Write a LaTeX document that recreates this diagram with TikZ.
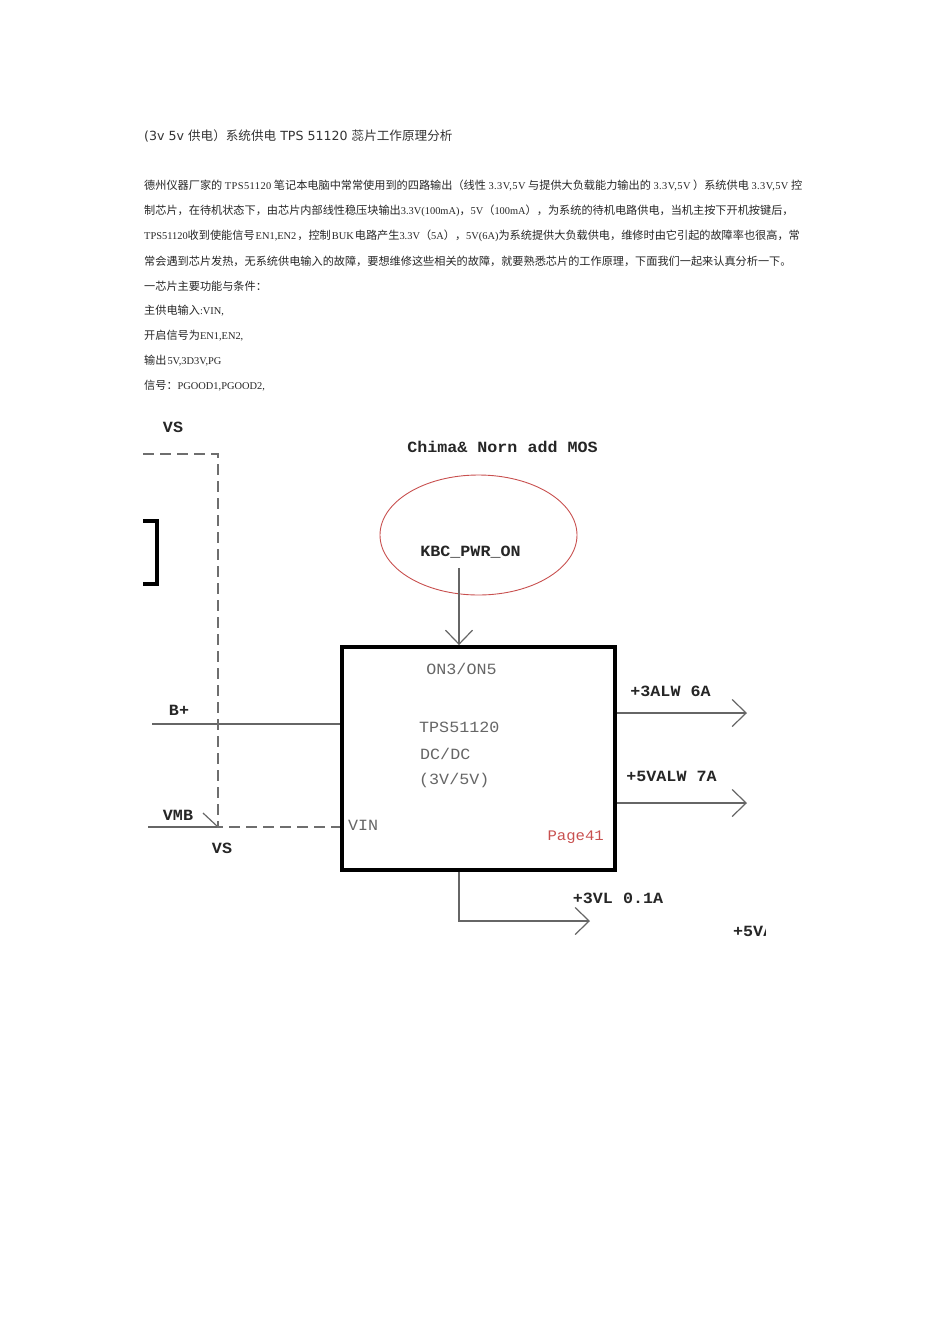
\documentclass[tikz,border=0pt]{standalone}
\usepackage{fontspec}
\usetikzlibrary{arrows.meta,shapes.geometric}
\setmainfont{Liberation Serif}
\newfontfamily\zhfont{Noto Sans CJK SC}
\newfontfamily\titlefont{DejaVu Sans}
\newfontfamily\pinfont[FakeStretch=1.07]{Liberation Mono}
\newcommand{\zh}[1]{{\zhfont\fontsize{11.16}{12}\selectfont #1}}
\newcommand{\zt}[1]{{\zhfont\fontsize{12.6}{14}\selectfont #1}}
\newcommand{\lat}[1]{\hspace{2.6pt}{\addfontfeature{LetterSpace=4}#1}\hspace{2.6pt}}
\newcommand{\latn}[1]{\hspace{1pt}#1\hspace{1pt}}
\definecolor{inkgray}{HTML}{666666}
\definecolor{dashgray}{HTML}{6E6E6E}
\definecolor{pinred}{HTML}{C8504F}
\tikzset{
  bodyline/.style={anchor=west, inner sep=0pt, text=black!85, font=\fontsize{10.4}{12}\selectfont},
  titleline/.style={anchor=west, inner sep=0pt, text=black!80, font=\titlefont\fontsize{12.6}{14}\selectfont},
  netlabel/.style={inner sep=0pt, text=black!85, font=\pinfont\bfseries\fontsize{15.6}{18}\selectfont},
  pinlabel/.style={inner sep=0pt, text=black!60, font=\pinfont\fontsize{15.6}{18}\selectfont},
  wire/.style={draw=inkgray, line width=1.2pt},
  dashwire/.style={draw=dashgray, line width=1.4pt, dash pattern=on 11pt off 6pt},
  outarrow/.style={wire, -{Straight Barb[length=14pt,width=27pt]}}
}
\begin{document}
\begin{tikzpicture}[x=1pt,y=-1pt]
  \useasboundingbox (0,0) rectangle (950,1344);

  % text above the circuit
  \node[titleline] (title) at (144,136) {(3v 5v \zt{供电）系统供电} TPS 51120 \zt{蕊片工作原理分析}};
  \node[bodyline] (line1) at (144,186) {\zh{德州仪器厂家的}\lat{TPS51120}\zh{笔记本电脑中常常使用到的四路输出（线性}\lat{3.3V,5V}\zh{与提供大负载能力输出的}\lat{3.3V,5V}\zh{）系统供电}\lat{3.3V,5V}\zh{控}};
  \node[bodyline] (line2) at (144,211) {\zh{制芯片，在待机状态下，由芯片内部线性稳压块输出}3.3V(100mA)\zh{，}5V\zh{（}100mA\zh{），为系统的待机电路供电，当机主按下开机按键后，}};
  \node[bodyline] (line3) at (144,236) {TPS51120\zh{收到使能信号}\latn{EN1,EN2}\zh{，控制}\latn{BUK}\zh{电路产生}3.3V\zh{（}5A\zh{），}5V(6A)\zh{为系统提供大负载供电，维修时由它引起的故障率也很高，常}};
  \node[bodyline] (line4) at (144,261) {\zh{常会遇到芯片发热，无系统供电输入的故障，要想维修这些相关的故障，就要熟悉芯片的工作原理，下面我们一起来认真分析一下。}};
  \node[bodyline] (line5) at (144,286) {\zh{一芯片主要功能与条件：}};
  \node[bodyline] (line6) at (144,311) {\zh{主供电输入}:VIN,};
  \node[bodyline] (line7) at (144,336) {\zh{开启信号为}EN1,EN2,};
  \node[bodyline] (line8) at (144,361) {\zh{输出}\latn{5V,3D3V,PG}};
  \node[bodyline] (line9) at (144,386) {\zh{信号：}PGOOD1,PGOOD2,};

  % chip and ellipse
  \node[draw=black, line width=4pt, minimum width=273pt, minimum height=222.5pt, inner sep=0pt] (chip) at (478,758.3) {};
  \node[draw=pinred, ellipse, line width=.9pt, minimum width=197pt, minimum height=120pt, inner sep=0pt] (mosring) at (478.5,535) {};

  \node[netlabel] (mos) at (502.5,447) {Chima\& Norn add MOS};
  \node[netlabel] (kbc) at (470.5,552) {KBC\_PWR\_ON};
  \node[pinlabel] (on) at (461.5,669) {ON3/ON5};
  \node[pinlabel, anchor=west] (tps) at (419,727) {TPS51120};
  \node[pinlabel, anchor=west] (dcdc) at (420,754) {DC/DC};
  \node[pinlabel, anchor=west] (volts) at (419,780) {(3V/5V)};
  \node[pinlabel, anchor=west] (vin) at (348,825) {VIN};
  \node[pinlabel, anchor=east, text=pinred, font=\pinfont\fontsize{14.6}{18}\selectfont] (page) at (604,837) {Page41};

  \node[netlabel] (vstop) at (173,427) {VS};
  \node[netlabel] (vsbot) at (222,848) {VS};
  \node[netlabel] (bplus) at (179,710) {B+};
  \node[netlabel] (vmb) at (178,815) {VMB};
  \node[netlabel] (alw3) at (670.5,691) {+3ALW 6A};
  \node[netlabel] (alw5) at (671.5,776) {+5VALW 7A};
  \node[netlabel] (vl3) at (618,898) {+3VL 0.1A};
  \begin{scope}
    \clip (725,920) rectangle (765.5,942);
    \node[netlabel, anchor=west] (vl5) at (733,931) {+5VA};
  \end{scope}

  % free ends of the connectors
  \coordinate (bstart) at (152,724);
  \coordinate (vmbstart) at (148,827);
  \coordinate (vsjoin) at (218,827);
  \coordinate (vscorner) at (218,454);
  \coordinate (vsleft) at (143,454);
  \coordinate (tick) at (203,813);
  \coordinate (kbcstart) at (459,568);
  \coordinate (out3) at (747,713);
  \coordinate (out5) at (747,803);
  \coordinate (bend3) at (459,921);
  \coordinate (out3l) at (590,921);

  \draw[wire] (bstart) -- (bstart -| chip.west);
  \draw[wire] (vmbstart) -- (vsjoin);
  \draw[wire] (tick) -- (vsjoin);
  \draw[dashwire] (vsleft) -- (vscorner) -- (vsjoin) -- (vsjoin -| chip.west);
  \draw[outarrow] (kbcstart) -- (kbcstart |- chip.north);
  \draw[outarrow] (out3 -| chip.east) -- (out3);
  \draw[outarrow] (out5 -| chip.east) -- (out5);
  \draw[outarrow] (bend3 |- chip.south) -- (bend3) -- (out3l);

  % bracket at the left edge
  \draw[line width=4.5pt, black] (143,521) -- (157,521) -- (157,584) -- (143,584);

\end{tikzpicture}
\end{document}
